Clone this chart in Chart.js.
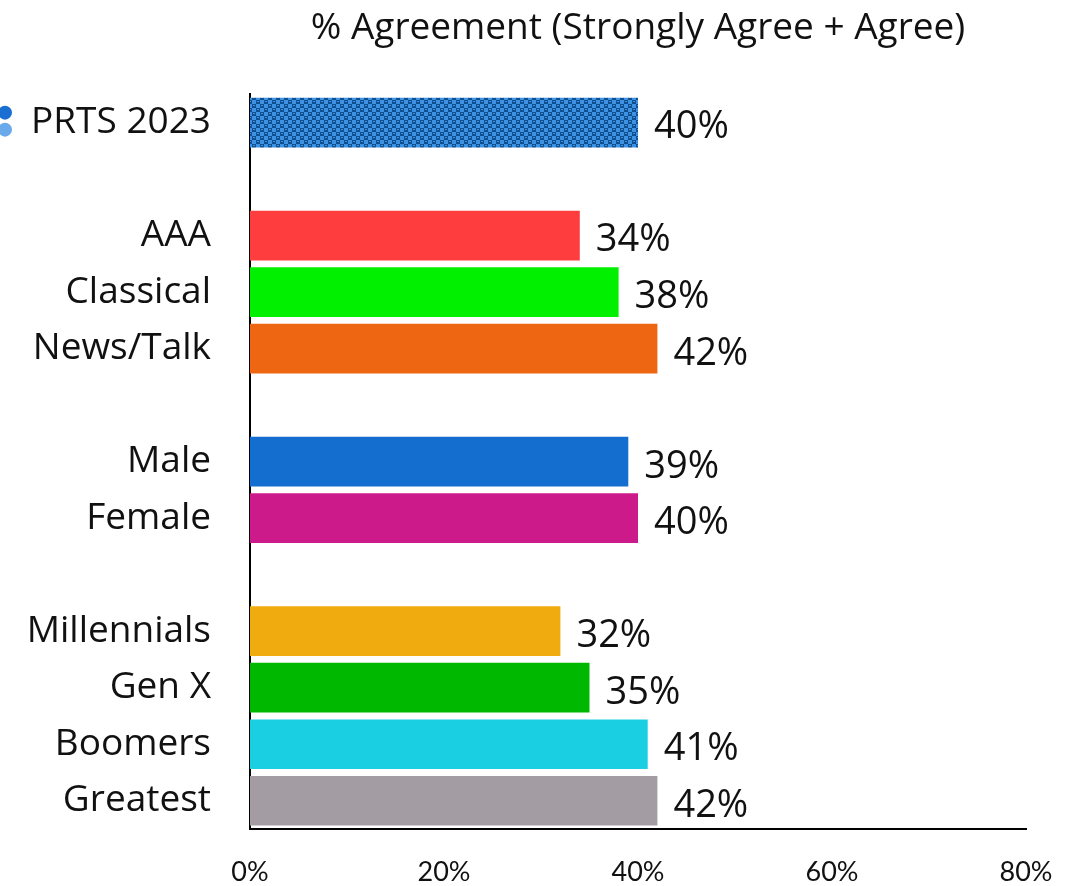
<!DOCTYPE html>
<html lang="en">
<head>
  <meta charset="UTF-8">
  <title>% Agreement</title>
  <script src="https://cdn.jsdelivr.net/npm/chart.js"></script>
  <style>
    html, body { margin: 0; padding: 0; background: #fff; }
    #wrap { width: 1081px; height: 886px; }
  </style>
</head>
<body>
<div id="wrap"><canvas id="chart" width="1081" height="886"></canvas></div>
<script>
// data (blank labels are the gaps between groups)
const categories = ["PRTS 2023", "", "AAA", "Classical", "News/Talk", "", "Male", "Female", "", "Millennials", "Gen X", "Boomers", "Greatest"];
const agreement = [40, null, 34, 38, 42, null, 39, 40, null, 32, 35, 41, 42];
const barColors = ["pattern", null, "#fe3e3e", "#00f000", "#ee6612", null, "#146ecf", "#cc1a8a", null, "#f0ab0e", "#00b800", "#1bcfe3", "#a39ca3"];
const xTicks = [0, 20, 40, 60, 80];

const FONT = "'Open Sans', Lato, sans-serif";
const TICKFONT = "Lato, sans-serif";

// checkered fill for the PRTS 2023 bar
function makePattern() {
  const c = document.createElement("canvas");
  c.width = 8; c.height = 8;
  const g = c.getContext("2d");
  g.fillStyle = "#104f8e";
  g.fillRect(0, 0, 8, 8);
  g.fillStyle = "#3d92e4";
  g.fillRect(0, 0, 4, 4);
  g.fillRect(4, 4, 4, 4);
  g.fillRect(5, 1, 2, 1);
  g.fillRect(1, 5, 2, 1);
  return document.getElementById("chart").getContext("2d").createPattern(c, "repeat");
}
const pat = makePattern();

const valueLabels = {
  id: "valueLabels",
  afterDatasetsDraw(chart) {
    const ctx = chart.ctx;
    const meta = chart.getDatasetMeta(0);
    ctx.save();
    ctx.font = "38px " + FONT;
    ctx.fillStyle = "#111";
    ctx.textAlign = "left";
    ctx.textBaseline = "middle";
    meta.data.forEach((bar, i) => {
      if (agreement[i] == null) return;
      ctx.fillText(agreement[i] + "%", bar.x + 16, bar.y + 5);
    });
    // the little two-dot marker beside the PRTS label
    const y0 = chart.scales.y.getPixelForValue(0);
    ctx.fillStyle = "#1b6fd3";
    ctx.beginPath(); ctx.arc(5, y0 - 10, 7, 0, Math.PI * 2); ctx.fill();
    ctx.fillStyle = "#6aa9ea";
    ctx.beginPath(); ctx.arc(5, y0 + 7, 7, 0, Math.PI * 2); ctx.fill();
    ctx.restore();
  }
};

new Chart(document.getElementById("chart"), {
  type: "bar",
  data: {
    labels: categories,
    datasets: [{
      data: agreement,
      backgroundColor: barColors.map(c => c === "pattern" ? pat : c),
      borderWidth: 0,
      categoryPercentage: 1,
      barPercentage: 0.88
    }]
  },
  options: {
    indexAxis: "y",
    responsive: false,
    animation: false,
    layout: { padding: { left: 0, right: 55, top: 0, bottom: 0 } },
    plugins: {
      legend: { display: false },
      tooltip: { enabled: false },
      title: {
        display: true,
        fullSize: false,
        text: "% Agreement (Strongly Agree + Agree)",
        color: "#111",
        font: { family: FONT, size: 37, weight: "normal" },
        padding: { top: 6, bottom: 44 }
      }
    },
    scales: {
      x: {
        min: 0,
        max: 80,
        afterBuildTicks: s => { s.ticks = xTicks.map(v => ({ value: v })); },
        afterFit: s => { s.height = 57; },
        grid: { display: false, drawTicks: false },
        border: { display: true, color: "#000", width: 2 },
        ticks: {
          padding: 27,
          color: "#111",
          font: { family: TICKFONT, size: 27 },
          maxRotation: 0,
          callback: v => v + "%"
        }
      },
      y: {
        // tick padding would otherwise reserve space above/below the plot
        afterFit: s => { s.width = 250; s.paddingTop = 0; s.paddingBottom = 0; },
        grid: { display: false, drawTicks: false },
        border: { display: true, color: "#000", width: 2 },
        ticks: {
          padding: 39,
          color: "#111",
          font: { family: FONT, size: 37 },
          autoSkip: false
        }
      }
    }
  },
  plugins: [valueLabels]
});
</script>
</body>
</html>
